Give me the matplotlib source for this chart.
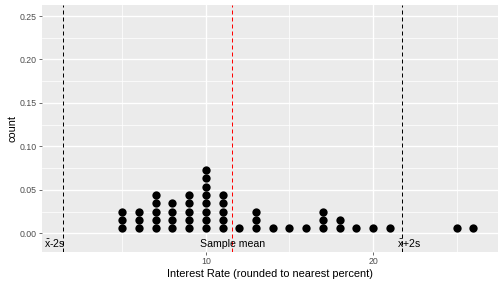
import matplotlib
matplotlib.use('Agg')
import matplotlib.pyplot as plt

plt.rcParams['font.family'] = ['Liberation Sans', 'DejaVu Sans']
plt.rcParams['mathtext.fontset'] = 'custom'
plt.rcParams['mathtext.rm'] = 'Liberation Sans'

# interest rate (rounded %) and number of loans at each value
rates = [5, 6, 7, 8, 9, 10, 11, 12, 13, 14, 15, 16, 17, 18, 19, 20, 21, 25, 26]
counts = [3, 3, 5, 4, 5, 8, 5, 1, 3, 1, 1, 1, 3, 2, 1, 1, 1, 1, 1]

mean_rate = 11.58
sd_rate = 5.07

x_ticks = [10, 20]
y_ticks = [0.00, 0.05, 0.10, 0.15, 0.20, 0.25]


def main() -> None:
    fig = plt.figure(figsize=(7, 4), dpi=72)
    ax = fig.add_axes([42 / 504, 1 - 252 / 288, (498 - 42) / 504, (252 - 5) / 288])
    ax.set_facecolor('#EBEBEB')
    for s in ax.spines.values():
        s.set_visible(False)

    # grid
    for v in [5, 15, 25]:
        ax.axvline(v, color='white', lw=0.7, zorder=0)
    for v in x_ticks:
        ax.axvline(v, color='white', lw=1.4, zorder=0)
    for v in [0.025, 0.075, 0.125, 0.175, 0.225]:
        ax.axhline(v, color='white', lw=0.7, zorder=0)
    for v in y_ticks:
        ax.axhline(v, color='white', lw=1.4, zorder=0)

    # stacked dots
    y0, dy = 0.0057, 0.0096
    xs, ys = [], []
    for r, c in zip(rates, counts):
        for k in range(c):
            xs.append(r)
            ys.append(y0 + k * dy)
    ax.plot(xs, ys, 'o', color='black', markersize=8.3, markeredgewidth=0, zorder=3)

    lower = mean_rate - 2 * sd_rate
    upper = mean_rate + 2 * sd_rate
    dash = (0, (4, 3))
    ax.axvline(lower, color='black', lw=1.0, linestyle=dash, zorder=2)
    ax.axvline(upper, color='black', lw=1.0, linestyle=dash, zorder=2)
    ax.axvline(mean_rate, color='red', lw=1.0, linestyle=dash, zorder=2)

    ty = -0.0125
    ax.annotate(r'$\bar{\mathrm{x}}$-2s', xy=(lower, ty), xytext=(-8.5, 0),
                textcoords='offset points', ha='center', va='center', fontsize=10.5, zorder=4)
    ax.annotate('Sample mean', xy=(mean_rate, ty), ha='center', va='center', fontsize=10.5, zorder=4)
    ax.annotate(r'$\bar{\mathrm{x}}$+2s', xy=(upper, ty), xytext=(7.5, 0),
                textcoords='offset points', ha='center', va='center', fontsize=10.5, zorder=4)

    ax.set_xlim(0.2, 27.47)
    ax.set_ylim(-0.0215, 0.2627)
    ax.set_xticks(x_ticks)
    ax.set_yticks(y_ticks)
    ax.set_yticklabels([f'{v:.2f}' for v in y_ticks])
    ax.tick_params(colors='#333333', labelcolor='#4D4D4D', labelsize=8.8,
                   length=2.75, width=0.7, pad=2.2)
    ax.set_xlabel('Interest Rate (rounded to nearest percent)', fontsize=11, labelpad=3)
    ax.set_ylabel('count', fontsize=11, labelpad=2)

    fig.savefig('out.png', dpi=72)
    plt.close(fig)


if __name__ == '__main__':
    main()
